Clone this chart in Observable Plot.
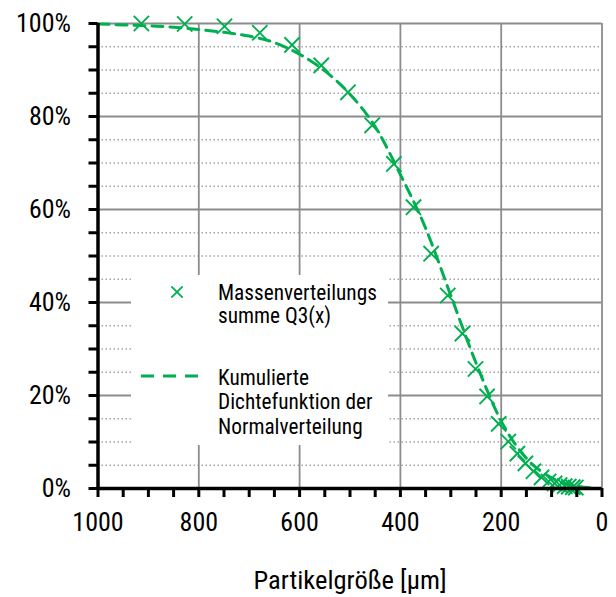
<!DOCTYPE html>
<html>
<head>
<meta charset="utf-8">
<script src="https://cdn.jsdelivr.net/npm/d3@7"></script>
<script src="https://cdn.jsdelivr.net/npm/@observablehq/plot@0.6"></script>
<style>
  html, body { margin: 0; padding: 0; background: #fff; }
  #chart svg { display: block; }
  #chart text { font-weight: 400; }
</style>
</head>
<body>
<div id="chart"></div>
<script>
// Siebanalyse: Partikelgröße (µm) und Massenverteilungssumme Q3 (%)
const sizes = [914, 828, 749, 679, 615, 557, 504, 456, 413, 374, 339, 306, 277, 251, 228, 205, 186, 168, 152, 136, 120, 106, 94, 84, 74, 66, 58, 52];
const q3 = [100, 99.9, 99.4, 98.0, 95.4, 91.0, 85.2, 78.1, 69.8, 60.5, 50.5, 41.5, 33.3, 25.7, 19.8, 13.9, 10.1, 7.5, 5.4, 3.7, 2.4, 1.5, 1.1, 0.75, 0.5, 0.4, 0.3, 0.2];

// Kumulierte Dichtefunktion der Normalverteilung (Stützstellen)
const cdfSizes = [1000, 950, 900, 850, 800, 750, 700, 650, 600, 550, 500, 450, 400, 350, 300, 250, 200, 150, 100, 50, 20];
const cdfValues = [99.9, 99.7, 99.5, 99.2, 98.7, 98.1, 97.3, 95.9, 93.4, 89.8, 84.8, 77.8, 67.5, 56.0, 41.5, 27.0, 14.5, 6.5, 2.3, 0.5, 0.1];

// Achsen
const xMajor = [1000, 800, 600, 400, 200, 0];
const xTicks = d3.range(0, 1001, 50);
const yMajor = [0, 20, 40, 60, 80, 100];
const yTicks = d3.range(0, 101, 5);
const yMinor = yTicks.filter(v => v % 20 !== 0);
const xTitle = "Partikelgröße [µm]";

// Legende
const legendLabels = [
  ["Massenverteilungs", "summe Q3(x)"],
  ["Kumulierte", "Dichtefunktion der", "Normalverteilung"]
];

const green = "#00b050";
const font = "'Roboto Condensed', 'Liberation Sans Narrow', 'Arial Narrow', Roboto, sans-serif";

const points = sizes.map((s, i) => ({size: s, q: q3[i]}));
const cdf = cdfSizes.map((s, i) => ({size: s, q: cdfValues[i]}));

const chart = Plot.plot({
  width: 616,
  height: 597,
  marginTop: 23,
  marginBottom: 109,
  marginLeft: 97.5,
  marginRight: 14.5,
  style: {fontFamily: font, fontSize: "26px", fontWeight: 400, color: "#000", background: "#fff"},
  x: {domain: [1000, 0]},
  y: {domain: [0, 100]},
  marks: [
    Plot.ruleY(yMinor, {stroke: "#a6a6a6", strokeWidth: 1.5, strokeDasharray: "1.5,2.5"}),
    Plot.ruleY(yMajor.filter(v => v > 0), {stroke: "#8c8c8c", strokeWidth: 1.8}),
    Plot.ruleX(xMajor.filter(v => v < 1000), {stroke: "#8c8c8c", strokeWidth: 1.8}),
    Plot.line(cdf, {x: "size", y: "q", stroke: green, strokeWidth: 3, strokeDasharray: "11,7", curve: "monotone-x"}),
    Plot.dot(points, {x: "size", y: "q", symbol: "times", r: 7, stroke: green, strokeWidth: 1.9}),
    Plot.axisY(yTicks, {
      tickSize: 9, tickPadding: 18, strokeWidth: 3, stroke: "#000",
      tickFormat: d => d % 20 === 0 ? d + "%" : "", label: null
    }),
    Plot.axisX(xTicks, {
      tickSize: 9, tickPadding: 15, strokeWidth: 3, stroke: "#000",
      tickFormat: d => d % 200 === 0 ? String(d) : "", label: null
    }),
    Plot.ruleX([1000], {stroke: "#000", strokeWidth: 3.5}),
    Plot.ruleY([0], {stroke: "#000", strokeWidth: 3.5}),
    Plot.text([xTitle], {frameAnchor: "bottom", dy: 92, lineAnchor: "middle", fontSize: 26.5})
  ]
});

document.getElementById("chart").appendChild(chart);

// Legende über dem Gitter
const svg = d3.select(chart);
const lg = svg.append("g")
  .attr("font-family", font).attr("font-size", 21.3)
  .attr("text-anchor", "start").attr("fill", "#000");
lg.append("rect").attr("x", 131).attr("y", 275).attr("width", 257).attr("height", 170).attr("fill", "#fff");
lg.append("path")
  .attr("d", d3.symbol(d3.symbolTimes, Math.PI * 5.2 * 5.2)())
  .attr("transform", "translate(177,292)")
  .attr("fill", "none").attr("stroke", green).attr("stroke-width", 1.8);
lg.append("line")
  .attr("x1", 141).attr("x2", 200).attr("y1", 376).attr("y2", 376)
  .attr("stroke", green).attr("stroke-width", 3).attr("stroke-dasharray", "13,9");
legendLabels[0].forEach((t, i) => {
  lg.append("text").attr("x", 218).attr("y", 299.5 + i * 23.5).attr("text-anchor", "start").text(t);
});
legendLabels[1].forEach((t, i) => {
  lg.append("text").attr("x", 218).attr("y", 384.5 + i * 24.5).attr("text-anchor", "start").text(t);
});
</script>
</body>
</html>
